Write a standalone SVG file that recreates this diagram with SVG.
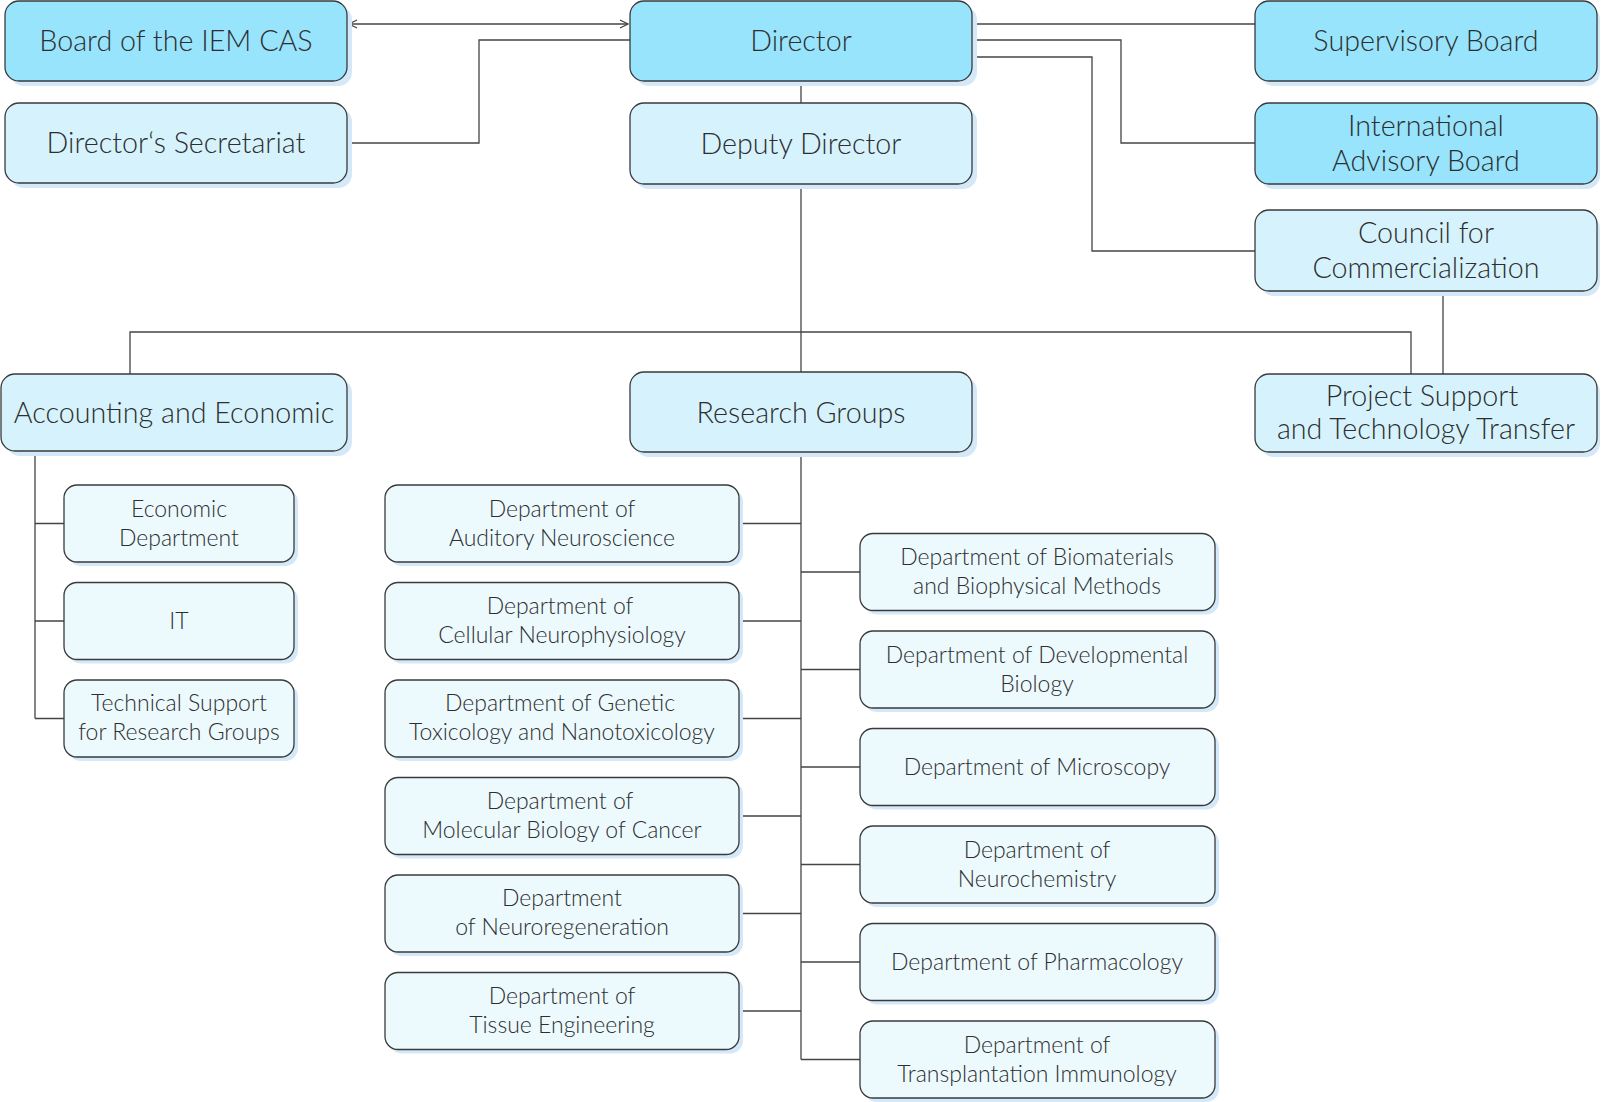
<svg xmlns="http://www.w3.org/2000/svg" width="1601" height="1102" viewBox="0 0 1601 1102">
<style>
.sh{fill:#d3e8f8}
.b{stroke:#3a3a3a;stroke-width:1.3}
.d{fill:#97e4fc}
.l{fill:#d6f3fd}
.s{fill:#ecfafe}
text{font-family:Lato,"Open Sans","Liberation Sans",sans-serif;font-weight:300;fill:#2e2e2e;text-anchor:middle;dominant-baseline:central;transform:translateY(-1px)}
.t1{font-size:28.7px}
.t2{font-size:23px}
.c{fill:none;stroke:#444;stroke-width:1.3}
</style>
<defs>
<marker id="ah" viewBox="0 0 10 10" refX="9" refY="5" markerWidth="10" markerHeight="10" markerUnits="userSpaceOnUse" orient="auto-start-reverse">
<path d="M1,1 L9,5 L1,9" fill="none" stroke="#444" stroke-width="1.2"/>
</marker>
</defs>
<g id="connectors">
<path class="c" d="M349,24 H628" marker-start="url(#ah)" marker-end="url(#ah)"/>
<path class="c" d="M347,143 H479 V40 H630"/>
<path class="c" d="M972,24 H1255"/>
<path class="c" d="M972,40 H1121 V143 H1255"/>
<path class="c" d="M972,57 H1092 V251 H1255"/>
<path class="c" d="M801,81 V103"/>
<path class="c" d="M801,184 V372"/>
<path class="c" d="M130,374 V332 H1411 V374"/>
<path class="c" d="M1443,291 V374"/>
<path class="c" d="M35,451 V718.5 M35,523.5 H64 M35,621 H64 M35,718.5 H64"/>
<path class="c" d="M801,452 V1059.5"/>
<path class="c" d="M739,523.5 H801 M739,621 H801 M739,718.5 H801 M739,816 H801 M739,913.5 H801 M739,1011 H801"/>
<path class="c" d="M801,572 H860 M801,669.5 H860 M801,767 H860 M801,864.5 H860 M801,962 H860 M801,1059.5 H860"/>
</g>
<g id="board"><rect class="sh" x="10" y="6" width="342" height="80" rx="14"/><rect class="b d" x="5" y="1" width="342" height="80" rx="14"/><text class="t1" x="176" y="41">Board of the IEM CAS</text></g>
<g id="director"><rect class="sh" x="635" y="6" width="342" height="80" rx="14"/><rect class="b d" x="630" y="1" width="342" height="80" rx="14"/><text class="t1" x="801" y="41">Director</text></g>
<g id="supervisory"><rect class="sh" x="1260" y="6" width="340" height="80" rx="14"/><rect class="b d" x="1255" y="1" width="342" height="80" rx="14"/><text class="t1" x="1426" y="41">Supervisory Board</text></g>
<g id="secretariat"><rect class="sh" x="10" y="108" width="342" height="80" rx="14"/><rect class="b l" x="5" y="103" width="342" height="80" rx="14"/><text class="t1" x="176" y="143">Director‘s Secretariat</text></g>
<g id="deputy"><rect class="sh" x="635" y="108" width="342" height="81" rx="14"/><rect class="b l" x="630" y="103" width="342" height="81" rx="14"/><text class="t1" x="801" y="144">Deputy Director</text></g>
<g id="iab"><rect class="sh" x="1260" y="108" width="340" height="81" rx="14"/><rect class="b d" x="1255" y="103" width="342" height="81" rx="14"/><text class="t1" x="1426" y="126">International</text><text class="t1" x="1426" y="161">Advisory Board</text></g>
<g id="council"><rect class="sh" x="1260" y="215" width="340" height="81" rx="14"/><rect class="b l" x="1255" y="210" width="342" height="81" rx="14"/><text class="t1" x="1426" y="233">Council for</text><text class="t1" x="1426" y="268">Commercialization</text></g>
<g id="accounting"><rect class="sh" x="6" y="379" width="346" height="77" rx="14"/><rect class="b l" x="1" y="374" width="346" height="77" rx="14"/><text class="t1" x="174" y="413">Accounting and Economic</text></g>
<g id="research"><rect class="sh" x="635" y="377" width="342" height="80" rx="14"/><rect class="b l" x="630" y="372" width="342" height="80" rx="14"/><text class="t1" x="801" y="413">Research Groups</text></g>
<g id="project"><rect class="sh" x="1260" y="379" width="340" height="78" rx="14"/><rect class="b l" x="1255" y="374" width="342" height="78" rx="14"/><text class="t1" x="1422" y="396">Project Support</text><text class="t1" x="1426" y="429">and Technology Transfer</text></g>
<g id="economic"><rect class="sh" x="68" y="489" width="230" height="77" rx="13"/><rect class="b s" x="64" y="485" width="230" height="77" rx="13"/><text class="t2" x="179" y="509">Economic</text><text class="t2" x="179" y="538">Department</text></g>
<g id="it"><rect class="sh" x="68" y="586.5" width="230" height="77" rx="13"/><rect class="b s" x="64" y="582.5" width="230" height="77" rx="13"/><text class="t2" x="179" y="621">IT</text></g>
<g id="techsupport"><rect class="sh" x="68" y="684" width="230" height="77" rx="13"/><rect class="b s" x="64" y="680" width="230" height="77" rx="13"/><text class="t2" x="179" y="703">Technical Support</text><text class="t2" x="179" y="732">for Research Groups</text></g>
<g id="auditory"><rect class="sh" x="389" y="489" width="354" height="77" rx="13"/><rect class="b s" x="385" y="485" width="354" height="77" rx="13"/><text class="t2" x="562" y="509">Department of</text><text class="t2" x="562" y="538">Auditory Neuroscience</text></g>
<g id="cellular"><rect class="sh" x="389" y="586.5" width="354" height="77" rx="13"/><rect class="b s" x="385" y="582.5" width="354" height="77" rx="13"/><text class="t2" x="560" y="606">Department of</text><text class="t2" x="562" y="635">Cellular Neurophysiology</text></g>
<g id="genetic"><rect class="sh" x="389" y="684" width="354" height="77" rx="13"/><rect class="b s" x="385" y="680" width="354" height="77" rx="13"/><text class="t2" x="560" y="703">Department of Genetic</text><text class="t2" x="562" y="732">Toxicology and Nanotoxicology</text></g>
<g id="molecular"><rect class="sh" x="389" y="781.5" width="354" height="77" rx="13"/><rect class="b s" x="385" y="777.5" width="354" height="77" rx="13"/><text class="t2" x="560" y="801">Department of</text><text class="t2" x="562" y="830">Molecular Biology of Cancer</text></g>
<g id="neuroregeneration"><rect class="sh" x="389" y="879" width="354" height="77" rx="13"/><rect class="b s" x="385" y="875" width="354" height="77" rx="13"/><text class="t2" x="562" y="898">Department</text><text class="t2" x="562" y="927">of Neuroregeneration</text></g>
<g id="tissue"><rect class="sh" x="389" y="976.5" width="354" height="77" rx="13"/><rect class="b s" x="385" y="972.5" width="354" height="77" rx="13"/><text class="t2" x="562" y="996">Department of</text><text class="t2" x="562" y="1025">Tissue Engineering</text></g>
<g id="biomaterials"><rect class="sh" x="864" y="537.5" width="355" height="77" rx="13"/><rect class="b s" x="860" y="533.5" width="355" height="77" rx="13"/><text class="t2" x="1037" y="557">Department of Biomaterials</text><text class="t2" x="1037" y="586">and Biophysical Methods</text></g>
<g id="developmental"><rect class="sh" x="864" y="635" width="355" height="77" rx="13"/><rect class="b s" x="860" y="631" width="355" height="77" rx="13"/><text class="t2" x="1037" y="655">Department of Developmental</text><text class="t2" x="1037" y="684">Biology</text></g>
<g id="microscopy"><rect class="sh" x="864" y="732.5" width="355" height="77" rx="13"/><rect class="b s" x="860" y="728.5" width="355" height="77" rx="13"/><text class="t2" x="1037" y="767">Department of Microscopy</text></g>
<g id="neurochemistry"><rect class="sh" x="864" y="830" width="355" height="77" rx="13"/><rect class="b s" x="860" y="826" width="355" height="77" rx="13"/><text class="t2" x="1037" y="850">Department of</text><text class="t2" x="1037" y="879">Neurochemistry</text></g>
<g id="pharmacology"><rect class="sh" x="864" y="927.5" width="355" height="77" rx="13"/><rect class="b s" x="860" y="923.5" width="355" height="77" rx="13"/><text class="t2" x="1037" y="962">Department of Pharmacology</text></g>
<g id="transplantation"><rect class="sh" x="864" y="1025" width="355" height="77" rx="13"/><rect class="b s" x="860" y="1021" width="355" height="77" rx="13"/><text class="t2" x="1037" y="1045">Department of</text><text class="t2" x="1037" y="1074">Transplantation Immunology</text></g>
</svg>
